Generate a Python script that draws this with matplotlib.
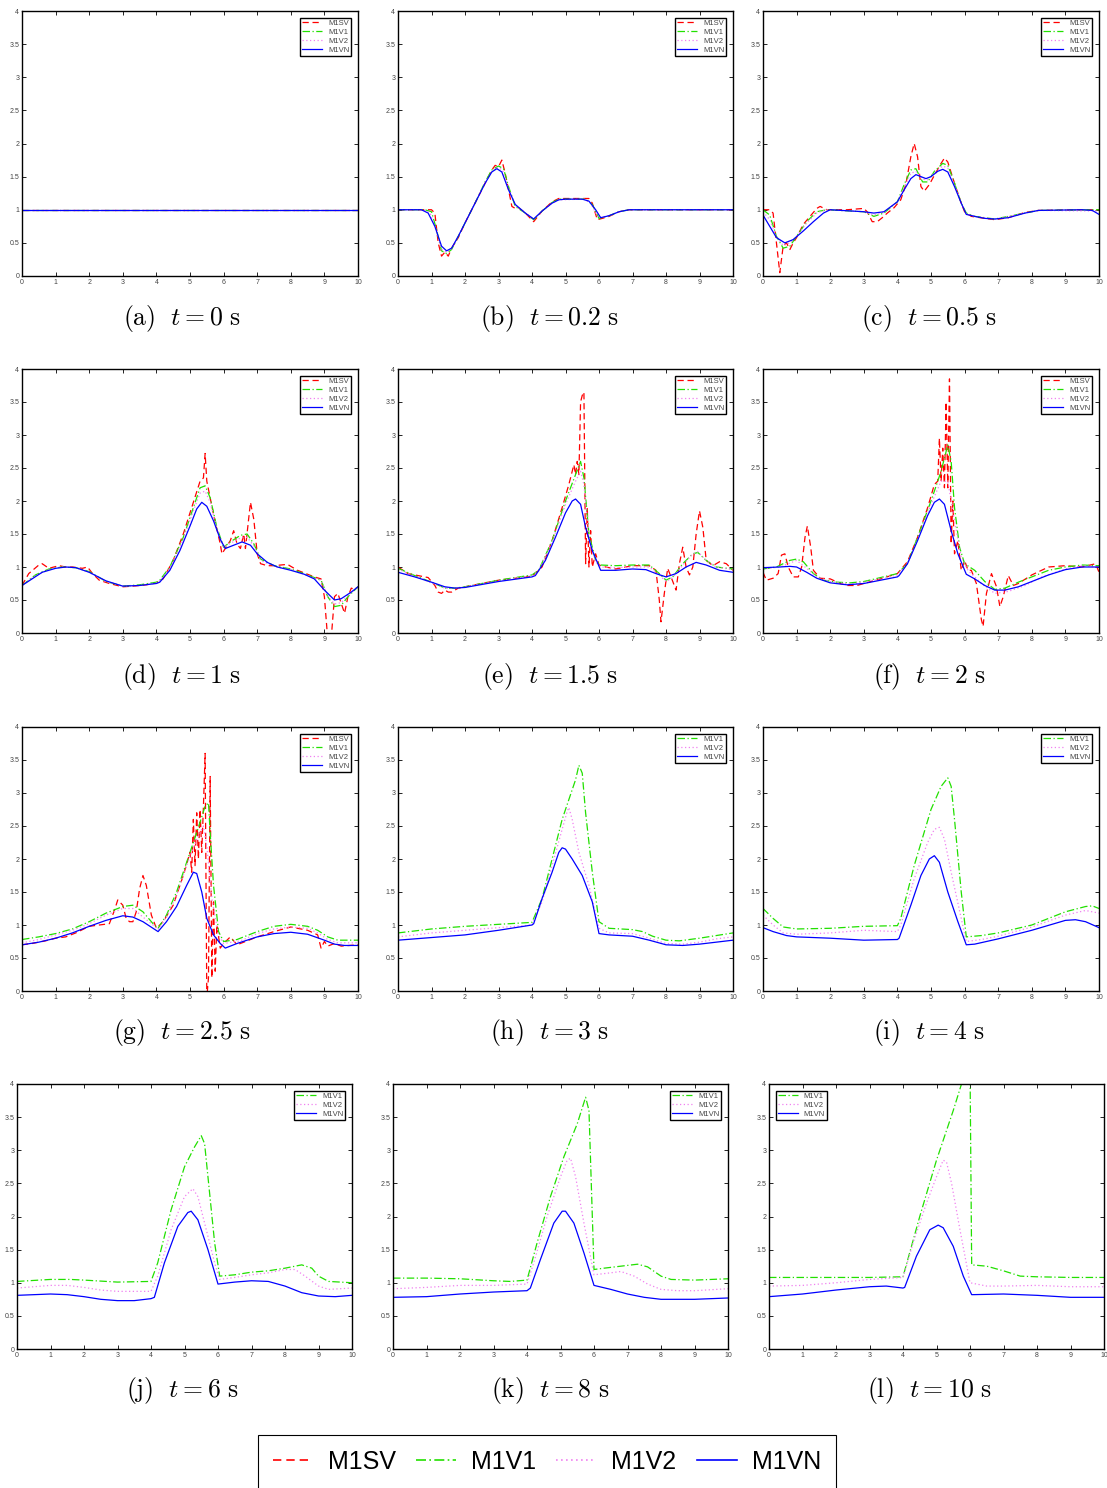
import matplotlib
matplotlib.use("Agg")
import matplotlib.pyplot as plt
from matplotlib.lines import Line2D

plt.rcParams['mathtext.fontset'] = 'cm'
plt.rcParams['font.family'] = ['Liberation Sans', 'DejaVu Sans']

# ---- data: (x, y) knots ----
a_sv = [(0, 1.0), (10, 1.0)]
a_v1 = [(0, 1.0), (10, 1.0)]
a_v2 = [(0, 1.0), (10, 1.0)]
a_vn = [(0, 1.0), (10, 1.0)]

b_sv = [(0, 1), (0.8, 1), (1.0, 1.0), (1.1, 0.95), (1.2, 0.5), (1.3, 0.3), (1.4, 0.36), (1.5, 0.3), (1.6, 0.42),
        (1.8, 0.58), (2.0, 0.8), (2.3, 1.1), (2.6, 1.4), (2.8, 1.6), (2.9, 1.67), (3.0, 1.65), (3.1, 1.75),
        (3.2, 1.55), (3.3, 1.3), (3.4, 1.05), (3.5, 1.02), (3.6, 1.03), (3.8, 0.95), (4.05, 0.82), (4.3, 0.98),
        (4.6, 1.12), (4.8, 1.17), (5.7, 1.17), (5.8, 1.1), (5.95, 0.85), (6.1, 0.87), (6.3, 0.9), (6.6, 0.97),
        (6.9, 1.0), (10, 1)]
b_v1 = [(0, 1), (0.8, 1), (1.0, 0.97), (1.15, 0.7), (1.3, 0.38), (1.45, 0.34), (1.6, 0.4), (1.8, 0.6), (2.0, 0.8),
        (2.3, 1.1), (2.6, 1.42), (2.8, 1.6), (3.0, 1.66), (3.15, 1.62), (3.3, 1.35), (3.5, 1.05), (3.8, 0.95),
        (4.05, 0.85), (4.3, 0.98), (4.6, 1.11), (4.8, 1.16), (5.6, 1.16), (5.8, 1.08), (6.0, 0.87), (6.3, 0.91),
        (6.6, 0.97), (6.9, 1.0), (10, 1)]
b_v2 = [(0, 1), (0.75, 1), (0.95, 0.96), (1.12, 0.72), (1.3, 0.4), (1.45, 0.36), (1.6, 0.41), (1.8, 0.6), (2.0, 0.8),
        (2.3, 1.1), (2.6, 1.41), (2.8, 1.58), (2.98, 1.64), (3.12, 1.6), (3.3, 1.33), (3.5, 1.07), (3.8, 0.95),
        (4.05, 0.86), (4.3, 0.98), (4.6, 1.1), (4.8, 1.15), (5.55, 1.16), (5.75, 1.1), (5.98, 0.88), (6.3, 0.91),
        (6.6, 0.97), (6.9, 1.0), (10, 1)]
b_vn = [(0, 1), (0.7, 1), (0.9, 0.95), (1.1, 0.75), (1.3, 0.45), (1.45, 0.38), (1.6, 0.42), (1.8, 0.6), (2.0, 0.8),
        (2.3, 1.1), (2.6, 1.4), (2.8, 1.57), (2.95, 1.62), (3.1, 1.57), (3.3, 1.3), (3.5, 1.08), (3.8, 0.95),
        (4.05, 0.86), (4.3, 0.98), (4.6, 1.1), (4.8, 1.15), (5.0, 1.16), (5.5, 1.16), (5.7, 1.13), (5.9, 1.0),
        (6.05, 0.88), (6.3, 0.91), (6.6, 0.97), (6.9, 1.0), (10, 1)]

c_sv = [(0, 1.0), (0.2, 1.0), (0.3, 0.95), (0.4, 0.5), (0.5, 0.05), (0.6, 0.45), (0.7, 0.5), (0.8, 0.4), (0.9, 0.5),
        (1.0, 0.58), (1.2, 0.78), (1.4, 0.9), (1.6, 1.02), (1.7, 1.05), (1.9, 1.0), (2.5, 1.0), (3.0, 1.02),
        (3.1, 0.97), (3.25, 0.82), (3.4, 0.82), (3.55, 0.88), (3.7, 0.95), (3.9, 1.03), (4.1, 1.15), (4.25, 1.38),
        (4.4, 1.8), (4.5, 2.0), (4.6, 1.8), (4.7, 1.35), (4.8, 1.28), (4.95, 1.38), (5.1, 1.52), (5.3, 1.7),
        (5.4, 1.78), (5.5, 1.72), (5.7, 1.4), (5.9, 1.1), (6.0, 0.97), (6.2, 0.9), (6.6, 0.87), (6.9, 0.85),
        (7.3, 0.88), (7.8, 0.96), (8.2, 0.99), (9.5, 1.0), (10, 1.0)]
c_v1 = [(0, 1.0), (0.2, 0.92), (0.4, 0.6), (0.6, 0.42), (0.8, 0.45), (1.0, 0.6), (1.3, 0.82), (1.6, 0.97), (1.9, 1.0),
        (3.0, 0.97), (3.3, 0.9), (3.6, 0.95), (4.0, 1.12), (4.2, 1.38), (4.4, 1.6), (4.55, 1.62), (4.75, 1.42),
        (4.9, 1.42), (5.1, 1.58), (5.35, 1.7), (5.5, 1.67), (5.7, 1.4), (5.9, 1.1), (6.05, 0.95), (6.3, 0.9),
        (6.9, 0.86), (7.8, 0.95), (8.2, 0.99), (10, 1.0)]
c_v2 = [(0, 0.97), (0.2, 0.85), (0.4, 0.6), (0.6, 0.46), (0.8, 0.5), (1.0, 0.6), (1.3, 0.8), (1.6, 0.95), (1.9, 1.0),
        (3.0, 0.97), (3.3, 0.92), (3.6, 0.96), (4.0, 1.12), (4.2, 1.34), (4.4, 1.55), (4.55, 1.58), (4.75, 1.46),
        (4.9, 1.45), (5.1, 1.56), (5.35, 1.66), (5.5, 1.63), (5.7, 1.38), (5.9, 1.1), (6.05, 0.94), (6.3, 0.9),
        (6.9, 0.86), (7.8, 0.95), (8.2, 0.99), (10, 0.98)]
c_vn = [(0, 0.92), (0.2, 0.75), (0.4, 0.58), (0.65, 0.5), (0.9, 0.55), (1.2, 0.68), (1.5, 0.82), (1.8, 0.95),
        (2.0, 1.0), (3.0, 0.97), (3.3, 0.95), (3.6, 0.97), (4.0, 1.12), (4.2, 1.3), (4.4, 1.47), (4.55, 1.53),
        (4.7, 1.5), (4.85, 1.47), (5.0, 1.5), (5.2, 1.58), (5.35, 1.61), (5.5, 1.57), (5.7, 1.35), (5.9, 1.1),
        (6.05, 0.93), (6.3, 0.9), (6.6, 0.87), (6.9, 0.86), (7.3, 0.88), (7.8, 0.95), (8.2, 0.99), (9.5, 1.0),
        (9.8, 0.99), (10, 0.93)]

d_sv = [(0, 0.72), (0.2, 0.9), (0.5, 1.03), (0.6, 1.05), (0.8, 0.98), (1.1, 1.02), (1.3, 1.0), (1.5, 1.0),
        (1.8, 0.98), (1.95, 1.0), (2.1, 0.9), (2.3, 0.8), (2.6, 0.75), (3.0, 0.7), (3.3, 0.71), (3.7, 0.73),
        (4.0, 0.76), (4.2, 0.82), (4.5, 1.1), (4.8, 1.5), (5.1, 1.98), (5.3, 2.3), (5.4, 2.35), (5.45, 2.72),
        (5.5, 2.3), (5.7, 1.8), (5.9, 1.35), (5.95, 1.2), (6.1, 1.32), (6.2, 1.4), (6.3, 1.55), (6.4, 1.35),
        (6.5, 1.28), (6.6, 1.5), (6.65, 1.28), (6.75, 1.75), (6.8, 1.98), (6.9, 1.72), (7.0, 1.2), (7.1, 1.05),
        (7.3, 1.02), (7.5, 1.02), (7.9, 1.04), (8.2, 0.95), (8.7, 0.85), (8.9, 0.82), (9.0, 0.55), (9.1, -0.1),
        (9.2, -0.1), (9.3, 0.55), (9.4, 0.6), (9.5, 0.45), (9.6, 0.3), (9.7, 0.55), (9.8, 0.68), (9.9, 0.66),
        (10, 0.7)]
d_v1 = [(0, 0.72), (0.4, 0.88), (0.8, 0.97), (1.2, 1.0), (1.6, 0.99), (2.0, 0.93), (2.5, 0.78), (3.0, 0.71),
        (3.5, 0.73), (4.0, 0.77), (4.1, 0.8), (4.4, 1.0), (4.8, 1.45), (5.1, 1.9), (5.3, 2.2), (5.45, 2.23),
        (5.6, 2.05), (5.8, 1.6), (6.0, 1.3), (6.2, 1.38), (6.5, 1.48), (6.7, 1.5), (6.9, 1.35), (7.1, 1.12),
        (7.5, 1.02), (8.0, 0.97), (8.5, 0.88), (8.9, 0.8), (9.1, 0.55), (9.3, 0.4), (9.5, 0.42), (9.7, 0.55),
        (10, 0.7)]
d_v2 = [(0, 0.72), (0.4, 0.87), (0.8, 0.96), (1.2, 1.0), (1.6, 0.99), (2.0, 0.92), (2.5, 0.78), (3.0, 0.71),
        (3.5, 0.72), (4.0, 0.76), (4.1, 0.79), (4.4, 0.98), (4.8, 1.42), (5.1, 1.85), (5.3, 2.12), (5.45, 2.15),
        (5.6, 1.98), (5.8, 1.58), (6.0, 1.3), (6.2, 1.36), (6.5, 1.44), (6.7, 1.45), (6.9, 1.32), (7.1, 1.1),
        (7.5, 1.01), (8.0, 0.96), (8.5, 0.87), (8.9, 0.8), (9.1, 0.56), (9.3, 0.44), (9.5, 0.46), (9.7, 0.57),
        (10, 0.7)]
d_vn = [(0, 0.72), (0.3, 0.82), (0.6, 0.92), (1.0, 0.98), (1.3, 1.0), (1.6, 0.99), (2.0, 0.92), (2.5, 0.79),
        (3.0, 0.71), (3.5, 0.72), (4.0, 0.75), (4.1, 0.77), (4.4, 0.95), (4.7, 1.25), (5.0, 1.62), (5.2, 1.88),
        (5.35, 1.98), (5.5, 1.92), (5.7, 1.7), (5.9, 1.42), (6.05, 1.28), (6.3, 1.33), (6.55, 1.38), (6.8, 1.33),
        (7.0, 1.2), (7.3, 1.07), (7.6, 1.0), (8.0, 0.95), (8.4, 0.89), (8.7, 0.82), (9.0, 0.65), (9.3, 0.5),
        (9.5, 0.52), (9.8, 0.62), (10, 0.7)]

e_sv = [(0, 1.0), (0.3, 0.9), (0.7, 0.86), (0.9, 0.84), (1.1, 0.72), (1.2, 0.62), (1.3, 0.6), (1.4, 0.65),
        (1.5, 0.62), (1.6, 0.62), (1.8, 0.68), (2.2, 0.72), (3.0, 0.8), (4.0, 0.86), (4.3, 1.0), (4.6, 1.4),
        (4.9, 1.9), (5.1, 2.25), (5.25, 2.55), (5.3, 2.4), (5.35, 2.6), (5.4, 2.4), (5.45, 3.5), (5.5, 3.6),
        (5.55, 3.65), (5.6, 1.05), (5.65, 1.9), (5.7, 1.0), (5.75, 1.55), (5.8, 1.0), (5.9, 1.2), (6.0, 1.03),
        (6.2, 1.0), (6.5, 0.97), (7.0, 1.02), (7.5, 1.02), (7.7, 0.95), (7.8, 0.5), (7.85, 0.17), (7.95, 0.6),
        (8.05, 0.98), (8.15, 0.85), (8.3, 0.65), (8.4, 1.05), (8.5, 1.3), (8.6, 1.0), (8.7, 0.88), (8.8, 1.0),
        (8.9, 1.5), (9.0, 1.85), (9.1, 1.6), (9.2, 1.1), (9.4, 1.02), (9.6, 1.08), (9.8, 1.05), (10, 0.95)]
e_v1 = [(0, 0.98), (0.5, 0.87), (1.0, 0.77), (1.4, 0.68), (1.7, 0.68), (2.0, 0.7), (3.0, 0.8), (4.0, 0.88),
        (4.2, 0.95), (4.6, 1.4), (5.0, 2.0), (5.3, 2.4), (5.45, 2.6), (5.55, 2.35), (5.7, 1.5), (5.9, 1.1),
        (6.05, 1.03), (6.5, 1.02), (7.0, 1.03), (7.5, 1.03), (7.8, 0.9), (8.0, 0.8), (8.2, 0.85), (8.5, 1.05),
        (8.8, 1.2), (8.95, 1.22), (9.2, 1.1), (9.5, 1.0), (10, 0.97)]
e_v2 = [(0, 0.97), (0.5, 0.86), (1.0, 0.76), (1.4, 0.68), (1.7, 0.68), (2.0, 0.7), (3.0, 0.79), (4.0, 0.87),
        (4.2, 0.94), (4.6, 1.38), (5.0, 1.95), (5.3, 2.3), (5.45, 2.45), (5.55, 2.25), (5.7, 1.45), (5.9, 1.08),
        (6.05, 1.0), (6.5, 0.99), (7.0, 1.0), (7.5, 1.0), (7.8, 0.88), (8.0, 0.78), (8.2, 0.84), (8.5, 1.03),
        (8.8, 1.2), (8.95, 1.23), (9.2, 1.1), (9.5, 1.0), (10, 0.96)]
e_vn = [(0, 0.92), (0.5, 0.85), (1.0, 0.77), (1.4, 0.7), (1.7, 0.68), (2.0, 0.69), (3.0, 0.78), (4.0, 0.85),
        (4.1, 0.87), (4.4, 1.1), (4.7, 1.45), (5.0, 1.82), (5.2, 2.0), (5.3, 2.03), (5.45, 1.95), (5.6, 1.6),
        (5.8, 1.25), (6.05, 0.95), (6.5, 0.95), (7.0, 0.97), (7.4, 0.96), (7.7, 0.9), (8.0, 0.85), (8.3, 0.9),
        (8.6, 1.0), (8.9, 1.07), (9.2, 1.03), (9.6, 0.95), (10, 0.92)]

f_sv = [(0, 0.92), (0.1, 0.8), (0.3, 0.83), (0.45, 0.9), (0.55, 1.18), (0.65, 1.2), (0.75, 1.0), (0.9, 0.85),
        (1.05, 0.85), (1.15, 1.0), (1.25, 1.45), (1.32, 1.62), (1.42, 1.3), (1.5, 0.95), (1.7, 0.83), (2.0, 0.82),
        (2.3, 0.75), (2.5, 0.72), (2.8, 0.72), (3.0, 0.75), (3.5, 0.82), (4.0, 0.9), (4.3, 1.08), (4.6, 1.45),
        (4.9, 1.9), (5.1, 2.25), (5.2, 2.3), (5.25, 2.95), (5.3, 2.3), (5.35, 2.8), (5.4, 2.2), (5.45, 3.5),
        (5.5, 2.2), (5.55, 3.85), (5.6, 1.35), (5.65, 2.0), (5.7, 1.2), (5.8, 1.4), (5.9, 0.95), (6.0, 1.1),
        (6.1, 0.95), (6.2, 0.95), (6.35, 0.75), (6.5, 0.2), (6.55, 0.1), (6.65, 0.6), (6.8, 0.9), (6.95, 0.7),
        (7.05, 0.4), (7.15, 0.55), (7.3, 0.87), (7.45, 0.72), (7.6, 0.75), (8.0, 0.88), (8.5, 1.0), (9.0, 1.02),
        (9.5, 1.0), (9.9, 1.05), (10, 0.92)]
f_v1 = [(0, 0.97), (0.4, 1.0), (0.8, 1.1), (1.0, 1.12), (1.2, 1.08), (1.5, 0.9), (1.8, 0.8), (2.2, 0.77),
        (2.6, 0.76), (3.0, 0.78), (4.0, 0.9), (4.3, 1.05), (4.6, 1.45), (5.0, 2.0), (5.3, 2.45), (5.5, 2.85),
        (5.6, 2.6), (5.7, 1.9), (5.85, 1.3), (6.0, 1.05), (6.3, 0.95), (6.6, 0.78), (6.9, 0.66), (7.2, 0.68),
        (7.6, 0.77), (8.0, 0.85), (8.5, 0.95), (9.0, 1.0), (9.5, 1.03), (10, 1.02)]
f_v2 = [(0, 0.97), (0.5, 1.0), (1.0, 1.1), (1.3, 0.98), (1.6, 0.85), (2.0, 0.78), (2.6, 0.74), (3.0, 0.77),
        (4.0, 0.88), (4.3, 1.05), (4.6, 1.42), (5.0, 1.95), (5.3, 2.3), (5.5, 2.3), (5.7, 1.7), (5.9, 1.15),
        (6.1, 0.95), (6.5, 0.75), (6.9, 0.6), (7.3, 0.63), (7.8, 0.72), (8.3, 0.85), (9.0, 0.97), (9.5, 1.02),
        (10, 1.0)]
f_vn = [(0, 0.99), (0.5, 1.0), (0.8, 1.01), (1.0, 1.0), (1.3, 0.92), (1.6, 0.83), (2.0, 0.76), (2.5, 0.73),
        (3.0, 0.75), (4.0, 0.85), (4.05, 0.87), (4.3, 1.05), (4.6, 1.4), (4.9, 1.78), (5.1, 1.98), (5.25, 2.03),
        (5.4, 1.95), (5.6, 1.55), (5.8, 1.2), (6.05, 0.89), (6.3, 0.82), (6.6, 0.72), (6.9, 0.65), (7.2, 0.65),
        (7.6, 0.7), (8.0, 0.78), (8.5, 0.88), (9.0, 0.96), (9.5, 1.0), (10, 1.0)]

g_sv = [(0, 0.7), (0.3, 0.72), (0.7, 0.76), (1.0, 0.8), (1.3, 0.82), (1.6, 0.88), (2.0, 0.98), (2.3, 1.0),
        (2.6, 1.02), (2.75, 1.22), (2.85, 1.38), (3.0, 1.3), (3.1, 1.1), (3.2, 1.05), (3.3, 1.05), (3.4, 1.2),
        (3.5, 1.55), (3.6, 1.75), (3.7, 1.6), (3.85, 1.15), (4.0, 0.95), (4.2, 1.05), (4.5, 1.3), (4.8, 1.75),
        (5.0, 2.1), (5.05, 1.8), (5.1, 2.6), (5.15, 1.9), (5.2, 2.7), (5.25, 2.0), (5.3, 2.75), (5.35, 2.1),
        (5.4, 2.8), (5.45, 3.6), (5.5, -0.1), (5.55, 0.2), (5.6, 3.25), (5.65, 0.2), (5.7, 1.35), (5.75, 0.3),
        (5.8, 1.0), (5.9, 0.65), (6.0, 0.72), (6.2, 0.82), (6.4, 0.7), (7.0, 0.82), (7.5, 0.9), (8.0, 0.97),
        (8.5, 0.92), (8.8, 0.85), (8.9, 0.65), (9.0, 0.75), (9.1, 0.68), (9.3, 0.72), (9.5, 0.68), (10, 0.7)]
g_v1 = [(0, 0.78), (0.5, 0.82), (1.0, 0.87), (1.5, 0.94), (2.0, 1.05), (2.5, 1.18), (3.0, 1.28), (3.3, 1.3),
        (3.6, 1.2), (3.9, 1.02), (4.05, 0.95), (4.3, 1.15), (4.6, 1.5), (4.9, 1.95), (5.2, 2.4), (5.45, 2.8),
        (5.55, 2.85), (5.6, 2.4), (5.7, 1.6), (5.85, 0.9), (6.0, 0.75), (6.4, 0.78), (7.0, 0.9), (7.5, 0.98),
        (8.0, 1.01), (8.5, 0.98), (8.8, 0.92), (9.1, 0.82), (9.4, 0.77), (10, 0.77)]
g_v2 = [(0, 0.73), (0.5, 0.78), (1.0, 0.85), (1.5, 0.92), (2.0, 1.02), (2.5, 1.15), (3.0, 1.25), (3.3, 1.25),
        (3.6, 1.12), (3.9, 1.0), (4.05, 0.93), (4.3, 1.12), (4.6, 1.45), (4.9, 1.9), (5.2, 2.3), (5.4, 2.5),
        (5.5, 2.2), (5.65, 1.4), (5.85, 0.85), (6.0, 0.72), (6.5, 0.76), (7.0, 0.87), (7.5, 0.94), (8.0, 0.97),
        (8.5, 0.95), (8.8, 0.88), (9.1, 0.78), (9.4, 0.73), (10, 0.73)]
g_vn = [(0, 0.7), (0.5, 0.74), (1.0, 0.8), (1.5, 0.88), (2.0, 0.98), (2.5, 1.07), (3.0, 1.14), (3.3, 1.12),
        (3.6, 1.05), (3.9, 0.95), (4.05, 0.9), (4.3, 1.05), (4.6, 1.28), (4.9, 1.6), (5.1, 1.8), (5.2, 1.78),
        (5.35, 1.5), (5.5, 1.1), (5.7, 0.85), (5.9, 0.72), (6.05, 0.65), (6.4, 0.72), (7.0, 0.82), (7.5, 0.87),
        (8.0, 0.89), (8.5, 0.86), (9.0, 0.77), (9.3, 0.71), (9.6, 0.69), (10, 0.69)]

h_v1 = [(0, 0.88), (1, 0.94), (2, 0.98), (3, 1.01), (4, 1.04), (4.3, 1.4), (4.6, 2.0), (4.9, 2.6), (5.1, 2.9),
        (5.3, 3.2), (5.4, 3.42), (5.5, 3.3), (5.6, 2.7), (5.8, 1.8), (6.0, 1.05), (6.3, 0.95), (7.0, 0.93),
        (7.3, 0.9), (7.6, 0.83), (8.0, 0.77), (8.4, 0.76), (9.0, 0.8), (9.5, 0.84), (10, 0.88)]
h_v2 = [(0, 0.82), (1, 0.88), (2, 0.92), (3, 0.96), (4, 1.0), (4.3, 1.35), (4.6, 1.9), (4.9, 2.45), (5.05, 2.72),
        (5.1, 2.78), (5.2, 2.6), (5.4, 2.1), (5.7, 1.6), (6.0, 0.95), (6.3, 0.88), (7.0, 0.87), (7.5, 0.8),
        (8.0, 0.72), (8.5, 0.71), (9.0, 0.74), (9.5, 0.79), (10, 0.82)]
h_vn = [(0, 0.77), (1, 0.81), (2, 0.85), (3, 0.92), (4, 1.0), (4.05, 1.02), (4.3, 1.4), (4.6, 1.8), (4.8, 2.1),
        (4.9, 2.17), (5.0, 2.15), (5.2, 2.0), (5.5, 1.75), (5.8, 1.35), (6.0, 0.87), (6.3, 0.85), (7.0, 0.83),
        (7.5, 0.77), (8.0, 0.7), (8.5, 0.69), (9.0, 0.71), (9.5, 0.74), (10, 0.77)]

i_v1 = [(0, 1.25), (0.3, 1.1), (0.6, 0.97), (1.0, 0.94), (2.0, 0.95), (3.0, 0.98), (4.0, 0.99), (4.1, 1.1),
        (4.5, 1.9), (5.0, 2.75), (5.3, 3.1), (5.5, 3.23), (5.6, 3.1), (5.7, 2.6), (5.9, 1.5), (6.05, 0.82),
        (6.5, 0.84), (7.0, 0.88), (8.0, 1.0), (9.0, 1.2), (9.6, 1.28), (9.8, 1.29), (10, 1.25)]
i_v2 = [(0, 1.15), (0.3, 1.0), (0.6, 0.88), (1.0, 0.86), (2.0, 0.88), (3.0, 0.92), (4.0, 0.9), (4.1, 1.0),
        (4.5, 1.7), (4.9, 2.25), (5.1, 2.45), (5.25, 2.48), (5.4, 2.3), (5.6, 1.8), (5.9, 1.1), (6.05, 0.75),
        (6.5, 0.78), (7.0, 0.83), (8.0, 0.97), (9.0, 1.15), (9.6, 1.22), (10, 1.18)]
i_vn = [(0, 0.96), (0.3, 0.9), (0.7, 0.84), (1.0, 0.82), (2.0, 0.8), (3.0, 0.77), (4.0, 0.78), (4.05, 0.8),
        (4.4, 1.3), (4.7, 1.75), (4.95, 2.0), (5.1, 2.05), (5.25, 1.95), (5.5, 1.5), (5.8, 1.05), (6.05, 0.7),
        (6.3, 0.71), (7.0, 0.79), (8.0, 0.92), (9.0, 1.07), (9.3, 1.08), (9.6, 1.05), (10, 0.96)]

j_v1 = [(0, 1.02), (1, 1.05), (1.6, 1.05), (2, 1.04), (3, 1.01), (4, 1.02), (4.2, 1.3), (4.6, 2.1), (5.0, 2.75),
        (5.3, 3.05), (5.5, 3.22), (5.6, 3.1), (5.7, 2.6), (5.9, 1.6), (6.05, 1.1), (6.5, 1.12), (7.0, 1.16),
        (7.5, 1.18), (8.0, 1.22), (8.5, 1.27), (8.8, 1.22), (9.0, 1.1), (9.3, 1.02), (10, 1.0)]
j_v2 = [(0, 0.92), (0.5, 0.94), (1.0, 0.96), (1.5, 0.96), (2.0, 0.93), (2.5, 0.89), (3.0, 0.87), (4.0, 0.87),
        (4.2, 1.1), (4.6, 1.8), (5.0, 2.3), (5.25, 2.42), (5.4, 2.3), (5.6, 1.9), (5.9, 1.3), (6.05, 1.05),
        (6.5, 1.08), (7.0, 1.12), (7.5, 1.15), (8.0, 1.2), (8.3, 1.2), (8.6, 1.1), (9.0, 0.95), (9.3, 0.9),
        (10, 0.92)]
j_vn = [(0, 0.81), (0.5, 0.82), (1.0, 0.83), (1.5, 0.82), (2.0, 0.79), (2.5, 0.75), (3.0, 0.73), (3.5, 0.73),
        (4.0, 0.76), (4.1, 0.78), (4.4, 1.3), (4.8, 1.85), (5.1, 2.06), (5.2, 2.08), (5.4, 1.95), (5.7, 1.5),
        (6.0, 0.98), (6.5, 1.01), (7.0, 1.03), (7.5, 1.02), (8.0, 0.95), (8.5, 0.85), (9.0, 0.8), (9.5, 0.79),
        (10, 0.81)]

k_v1 = [(0, 1.07), (1, 1.07), (2, 1.06), (3, 1.03), (3.5, 1.02), (4, 1.04), (4.3, 1.6), (4.7, 2.3), (5.1, 2.9),
        (5.5, 3.4), (5.75, 3.8), (5.85, 3.6), (5.95, 2.0), (6.0, 1.2), (6.3, 1.22), (6.8, 1.25), (7.3, 1.28),
        (7.6, 1.24), (8.0, 1.1), (8.3, 1.05), (9.0, 1.04), (10, 1.06)]
k_v2 = [(0, 0.91), (1, 0.93), (2, 0.96), (3, 0.96), (4, 0.98), (4.2, 1.3), (4.6, 2.0), (5.0, 2.6), (5.2, 2.85),
        (5.3, 2.88), (5.45, 2.6), (5.7, 1.9), (6.0, 1.12), (6.5, 1.15), (6.8, 1.17), (7.2, 1.1), (7.6, 0.98),
        (8.0, 0.9), (8.5, 0.88), (9.0, 0.88), (10, 0.91)]
k_vn = [(0, 0.78), (1, 0.79), (2, 0.83), (3, 0.86), (4, 0.88), (4.1, 0.92), (4.4, 1.35), (4.8, 1.9), (5.05, 2.08),
        (5.15, 2.08), (5.4, 1.9), (5.7, 1.45), (6.0, 0.96), (6.5, 0.9), (7.0, 0.83), (7.5, 0.78), (8.0, 0.75),
        (8.5, 0.75), (9.0, 0.75), (10, 0.77)]

l_v1 = [(0, 1.08), (1, 1.08), (2, 1.08), (3, 1.08), (4, 1.09), (4.5, 2.0), (5.0, 2.85), (5.5, 3.6), (5.9, 4.25),
        (6.0, 4.3), (6.05, 1.27), (6.5, 1.25), (7.0, 1.18), (7.5, 1.1), (8.0, 1.09), (9.0, 1.08), (10, 1.08)]
l_v2 = [(0, 0.95), (1, 0.96), (2, 1.0), (3, 1.05), (4, 1.08), (4.3, 1.6), (4.7, 2.2), (5.0, 2.6), (5.2, 2.85),
        (5.3, 2.82), (5.45, 2.5), (5.7, 1.8), (6.0, 1.0), (6.5, 0.95), (7.0, 0.95), (8.0, 0.96), (9.0, 0.94),
        (10, 0.94)]
l_vn = [(0, 0.79), (1, 0.83), (2, 0.89), (3, 0.94), (3.5, 0.95), (4, 0.92), (4.05, 0.93), (4.4, 1.4), (4.8, 1.8),
        (5.05, 1.87), (5.2, 1.83), (5.5, 1.55), (5.8, 1.1), (6.05, 0.82), (7.0, 0.83), (8.0, 0.81), (9.0, 0.78),
        (10, 0.78)]

captions = ["(a)", "(b)", "(c)", "(d)", "(e)", "(f)", "(g)", "(h)", "(i)", "(j)", "(k)", "(l)"]
times = ["0", "0.2", "0.5", "1", "1.5", "2", "2.5", "3", "4", "6", "8", "10"]
names = ["M1SV", "M1V1", "M1V2", "M1VN"]

panels = [
    [a_sv, a_v1, a_v2, a_vn], [b_sv, b_v1, b_v2, b_vn], [c_sv, c_v1, c_v2, c_vn],
    [d_sv, d_v1, d_v2, d_vn], [e_sv, e_v1, e_v2, e_vn], [f_sv, f_v1, f_v2, f_vn],
    [g_sv, g_v1, g_v2, g_vn], [None, h_v1, h_v2, h_vn], [None, i_v1, i_v2, i_vn],
    [None, j_v1, j_v2, j_vn], [None, k_v1, k_v2, k_vn], [None, l_v1, l_v2, l_vn],
]

# line styles per series
styles = [
    dict(color='#ff0000', linestyle=(0, (5, 3))),
    dict(color='#22e000', linestyle=(0, (6, 2, 1, 2))),
    dict(color='#f080f0', linestyle=(0, (1, 2))),
    dict(color='#0000ff', linestyle='-'),
]

W, H = 1107, 1488
fig = plt.figure(figsize=(W / 100, H / 100), dpi=100)

# axes boxes in pixels: left, right, top, bottom
col_lr = [[(22, 358), (398, 733), (763, 1099)]] * 3 + [[(17, 352), (393, 728), (769, 1104)]]
row_tb = [(11, 276), (369, 633), (727, 991), (1084, 1349)]
cap_y = [318, 676, 1033, 1390]
cap_x = [182, 550, 929]

for k, series in enumerate(panels):
    r, c = divmod(k, 3)
    l, rr = col_lr[r][c]
    t, b = row_tb[r]
    ax = fig.add_axes([l / W, 1 - b / H, (rr - l) / W, (b - t) / H])
    handles = []
    for s, data in enumerate(series):
        if data is None:
            continue
        xs = [p[0] for p in data]
        ys = [p[1] for p in data]
        ln, = ax.plot(xs, ys, lw=0.9, label=names[s], **styles[s])
        handles.append(ln)
    ax.set_xlim(0, 10)
    ax.set_ylim(0, 4)
    ax.set_xticks(range(0, 11))
    ax.set_yticks([0, 0.5, 1, 1.5, 2, 2.5, 3, 3.5, 4])
    ax.set_yticklabels(["0", "0.5", "1", "1.5", "2", "2.5", "3", "3.5", "4"])
    ax.tick_params(direction='in', length=3, width=0.6, top=True, right=True,
                   labelsize=5, labelcolor='#444444', pad=2)
    for sp in ax.spines.values():
        sp.set_linewidth(1.0)
    leg = ax.legend(handles=handles, loc='upper left' if k == 11 else 'upper right',
                    fontsize=5.5, handlelength=2.6, labelspacing=0.2, borderpad=0.25,
                    handletextpad=0.8, borderaxespad=0.9, fancybox=False, framealpha=1)
    leg.get_frame().set_edgecolor('black')
    leg.get_frame().set_linewidth(1.0)
    for txt in leg.get_texts():
        txt.set_color('#444444')
    fig.text(cap_x[c] / W, 1 - cap_y[r] / H,
             r"$\mathrm{%s}\ \ t = %s\ \mathrm{s}$" % (captions[k], times[k]),
             ha='center', va='center', fontsize=18.5)

# common legend at the bottom
proxies = [Line2D([], [], lw=1.2, **st) for st in styles]
fleg = fig.legend(proxies, names, loc='upper center', bbox_to_anchor=(547 / W, 1 - 1435 / H),
                  ncol=4, fontsize=18, handlelength=1.6, handletextpad=0.6, columnspacing=0.8,
                  fancybox=False, framealpha=1, borderpad=0.6, borderaxespad=0)
fleg.get_frame().set_edgecolor('black')
fleg.get_frame().set_linewidth(0.8)

fig.savefig("out.png", dpi=100)
